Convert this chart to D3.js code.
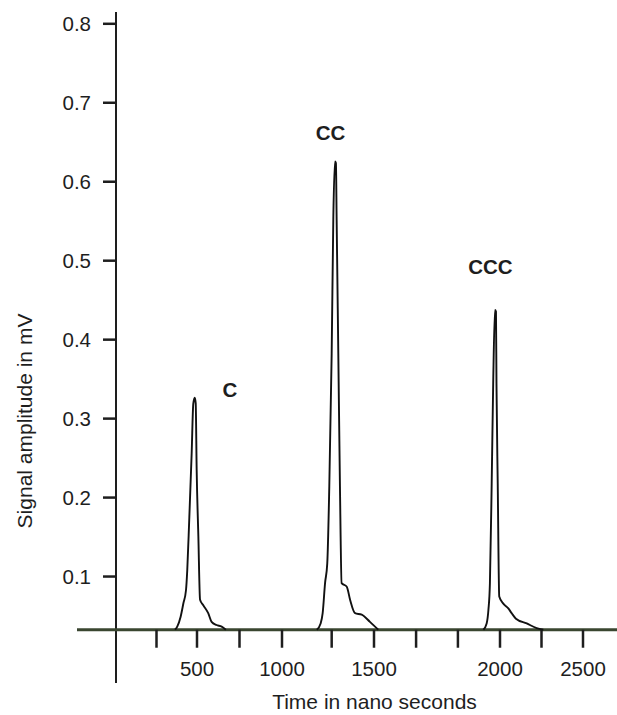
<!DOCTYPE html>
<html>
<head>
<meta charset="utf-8">
<script src="https://cdn.jsdelivr.net/npm/d3@7"></script>
<style>
  html, body { margin: 0; padding: 0; background: #fff; }
  svg { display: block; font-family: "Liberation Sans", Arial, sans-serif; }
</style>
</head>
<body>
<svg id="chart" width="617" height="715"></svg>
<script>
// ---- data ----
const cTime   = [364, 378, 399, 416, 432, 440, 452, 467, 477, 486, 492, 498, 508, 518, 537, 566, 586, 615, 645, 670];
const cAmp    = [0.032, 0.036, 0.0485, 0.0655, 0.082, 0.108, 0.171, 0.255, 0.318, 0.326, 0.319, 0.234, 0.150, 0.070, 0.063, 0.053, 0.042, 0.038, 0.036, 0.032];
const ccTime  = [1189, 1210, 1221, 1234, 1246, 1257, 1270, 1279, 1288, 1293, 1297, 1306, 1315, 1324, 1352, 1370, 1397, 1433, 1478, 1517];
const ccAmp   = [0.032, 0.040, 0.053, 0.091, 0.116, 0.213, 0.382, 0.555, 0.625, 0.623, 0.551, 0.382, 0.213, 0.091, 0.0865, 0.070, 0.053, 0.051, 0.042, 0.032];
const cccTime = [1934, 1947, 1954, 1960, 1967, 1973, 1980, 1984, 1986, 1991, 1997, 2020, 2050, 2070, 2096, 2161, 2221, 2261];
const cccAmp  = [0.032, 0.040, 0.057, 0.091, 0.217, 0.344, 0.437, 0.435, 0.344, 0.217, 0.074, 0.065, 0.059, 0.053, 0.046, 0.040, 0.034, 0.032];

const peakNames = ["C", "CC", "CCC"];
const labelTime = [694, 1264, 1962];
const labelAmp  = [0.327, 0.652, 0.4825];

const yTicks = [0.1, 0.2, 0.3, 0.4, 0.5, 0.6, 0.7, 0.8];
const xLabelTicks = [500, 1000, 1500, 2000, 2500];
const xMinorTicks = [250, 750, 1270, 1667, 1833, 2250];
const baselineAmp = 0.032;

// ---- layout ----
const svg = d3.select("#chart");
const ink = "#1e1e1e";

// x axis of the original figure is not evenly spaced between its labels
const x = d3.scaleLinear()
  .domain([0, 500, 1000, 1500, 2000, 2500, 2750])
  .range([116, 197, 282, 374, 500, 583, 624.5]);
const y = d3.scaleLinear().domain([0, 0.8]).range([655, 23.3]);

const axisY = y(baselineAmp);

// y axis line
svg.append("line")
  .attr("x1", x(0)).attr("x2", x(0))
  .attr("y1", 12).attr("y2", 683)
  .attr("stroke", ink).attr("stroke-width", 2);

// y ticks and labels
const yAxis = d3.axisLeft(y).tickValues(yTicks).tickSize(13).tickPadding(12)
  .tickFormat(d3.format(".1f"));
const gy = svg.append("g").attr("transform", `translate(${x(0)},0)`).call(yAxis);
gy.select(".domain").remove();
gy.selectAll(".tick line").attr("stroke", ink).attr("stroke-width", 2.5);
gy.selectAll(".tick text")
  .attr("fill", ink).attr("font-size", 20.5)
  .attr("font-family", "'Liberation Sans', Arial, sans-serif")
  .attr("dy", "0.34em");

// x axis line
svg.append("line")
  .attr("x1", 77).attr("x2", 617)
  .attr("y1", axisY).attr("y2", axisY)
  .attr("stroke", "#3a4630").attr("stroke-width", 3);

// x ticks
const allXTicks = xMinorTicks.concat(xLabelTicks).sort((a, b) => a - b);
svg.append("g").selectAll("line").data(allXTicks).join("line")
  .attr("x1", d => x(d)).attr("x2", d => x(d))
  .attr("y1", axisY).attr("y2", axisY + 18)
  .attr("stroke", ink).attr("stroke-width", 2.5);

svg.append("g").selectAll("text").data(xLabelTicks).join("text")
  .attr("x", d => x(d)).attr("y", 676)
  .attr("text-anchor", "middle")
  .attr("font-size", 20.5).attr("fill", ink)
  .text(d => d);

// axis titles
svg.append("text")
  .attr("x", 374.5).attr("y", 709)
  .attr("text-anchor", "middle")
  .attr("font-size", 21).attr("fill", ink)
  .text("Time in nano seconds");

svg.append("text")
  .attr("transform", "translate(31.5,421) rotate(-90)")
  .attr("text-anchor", "middle")
  .attr("font-size", 21).attr("fill", ink)
  .text("Signal amplitude in mV");

// signal traces
const line = d3.line().x(d => x(d[0])).y(d => y(d[1])).curve(d3.curveMonotoneX);
const traces = [
  d3.zip(cTime, cAmp),
  d3.zip(ccTime, ccAmp),
  d3.zip(cccTime, cccAmp)
];
svg.append("g").selectAll("path").data(traces).join("path")
  .attr("d", line)
  .attr("fill", "none")
  .attr("stroke", "#111")
  .attr("stroke-width", 1.9)
  .attr("stroke-linejoin", "round");

// peak labels
svg.append("g").selectAll("text").data(peakNames).join("text")
  .attr("x", (d, i) => x(labelTime[i]))
  .attr("y", (d, i) => y(labelAmp[i]))
  .attr("text-anchor", "middle")
  .attr("font-size", 20.5).attr("font-weight", "bold").attr("fill", ink)
  .text(d => d);
</script>
</body>
</html>
